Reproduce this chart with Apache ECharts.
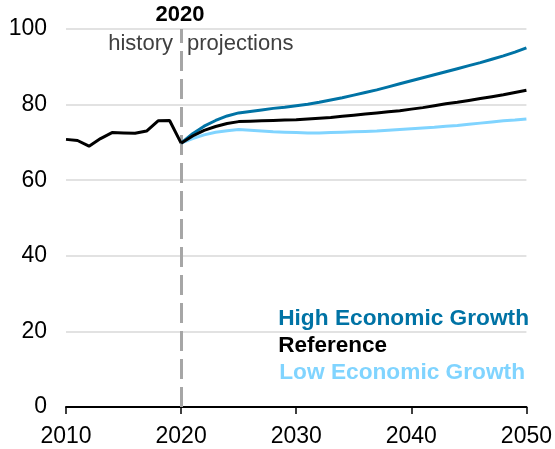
<!DOCTYPE html>
<html>
<head>
<meta charset="utf-8">
<script src="https://cdn.jsdelivr.net/npm/echarts@6/dist/echarts.min.js"></script>
<style>
html,body{margin:0;padding:0;background:#fff;}
#c{width:555px;height:449px;}
</style>
</head>
<body>
<div id="c"></div>
<script>
const historyYears = [2010,2011,2012,2013,2014,2015,2016,2017,2018,2019,2020];
const historyValues = [70.8,70.5,69.0,71.0,72.6,72.5,72.4,73.0,75.7,75.8,69.8];

const projectionYears = [2020,2021,2022,2023,2024,2025,2026,2027,2028,2029,2030,2031,2032,2033,2034,2035,2036,2037,2038,2039,2040,2041,2042,2043,2044,2045,2046,2047,2048,2049,2050];
const highGrowth = [69.8,72.3,74.3,75.8,77.0,77.8,78.2,78.6,79.0,79.3,79.7,80.1,80.6,81.2,81.8,82.5,83.2,83.9,84.7,85.5,86.3,87.1,87.9,88.7,89.5,90.3,91.1,92.0,92.9,93.9,95.0];
const reference = [69.8,71.7,73.2,74.2,75.0,75.5,75.6,75.7,75.8,75.9,76.0,76.2,76.4,76.6,76.9,77.2,77.5,77.8,78.1,78.4,78.8,79.2,79.7,80.2,80.6,81.1,81.6,82.1,82.6,83.2,83.8];
const lowGrowth = [69.8,71.0,72.0,72.7,73.1,73.4,73.2,73.0,72.8,72.7,72.6,72.5,72.5,72.6,72.7,72.8,72.9,73.0,73.2,73.4,73.6,73.8,74.0,74.3,74.5,74.8,75.1,75.4,75.7,75.9,76.2];

const xTicks = [2010,2020,2030,2040,2050];
const yTicks = [0,20,40,60,80,100];
const dividerYear = 2020;

const seriesNames = ['High Economic Growth','Reference','Low Economic Growth'];
const seriesColors = ['#0073A5','#000000','#80D4FF'];

const pair = (xs, ys) => xs.map((x, i) => [x, ys[i]]);
const FONT = 'Liberation Sans, Arial, sans-serif';

const chart = echarts.init(document.getElementById('c'), null, {renderer:'canvas'});
const option = {
  animation: false,
  grid: {left: 66, right: 27, top: 29, bottom: 42, containLabel: false},
  xAxis: {
    type: 'value', min: xTicks[0], max: xTicks[xTicks.length-1], interval: 10,
    axisLine: {show: true, lineStyle: {color: '#000', width: 2}},
    axisTick: {show: true, length: 7, lineStyle: {color: '#000', width: 1.5}},
    axisLabel: {color: '#000', fontSize: 23, fontFamily: FONT, margin: 18, formatter: v => String(v)},
    splitLine: {show: false}
  },
  yAxis: {
    type: 'value', min: yTicks[0], max: yTicks[yTicks.length-1], interval: 20,
    axisLine: {show: false}, axisTick: {show: false},
    axisLabel: {color: '#000', fontSize: 23, fontFamily: FONT, margin: 19},
    splitLine: {show: true, lineStyle: {color: '#d9d9d9', width: 1.5}}
  },
  series: [
    {
      name: 'History', type: 'line', data: pair(historyYears, historyValues),
      showSymbol: false, lineStyle: {color: '#000', width: 3}, z: 5,
      markLine: {
        silent: true, symbol: 'none', label: {show: false},
        lineStyle: {color: '#a6a6a6', width: 3, type: [20, 8]},
        data: [{xAxis: dividerYear}], z: 1
      }
    },
    {name: seriesNames[0], type: 'line', data: pair(projectionYears, highGrowth), showSymbol: false, lineStyle: {color: seriesColors[0], width: 3}, z: 4},
    {name: seriesNames[2], type: 'line', data: pair(projectionYears, lowGrowth), showSymbol: false, lineStyle: {color: seriesColors[2], width: 3}, z: 3},
    {name: seriesNames[1], type: 'line', data: pair(projectionYears, reference), showSymbol: false, lineStyle: {color: seriesColors[1], width: 3}, z: 5}
  ],
  graphic: [
    {type: 'text', x: 180, y: 15, style: {text: '2020', fontSize: 22, fontWeight: 'bold', fontFamily: FONT, fill: '#000', align: 'center', verticalAlign: 'middle'}},
    {type: 'text', x: 173, y: 44, style: {text: 'history', fontSize: 22, fontFamily: FONT, fill: '#404040', align: 'right', verticalAlign: 'middle'}},
    {type: 'text', x: 187, y: 44, style: {text: 'projections', fontSize: 22, fontFamily: FONT, fill: '#404040', align: 'left', verticalAlign: 'middle'}},
    {type: 'text', x: 529, y: 319, style: {text: seriesNames[0], fontSize: 22.7, fontWeight: 'bold', fontFamily: FONT, fill: seriesColors[0], align: 'right', verticalAlign: 'middle'}},
    {type: 'text', x: 387, y: 346, style: {text: seriesNames[1], fontSize: 22.5, fontWeight: 'bold', fontFamily: FONT, fill: seriesColors[1], align: 'right', verticalAlign: 'middle'}},
    {type: 'text', x: 525, y: 373, style: {text: seriesNames[2], fontSize: 22.7, fontWeight: 'bold', fontFamily: FONT, fill: seriesColors[2], align: 'right', verticalAlign: 'middle'}}
  ]
};
chart.setOption(option);
</script>
</body>
</html>
